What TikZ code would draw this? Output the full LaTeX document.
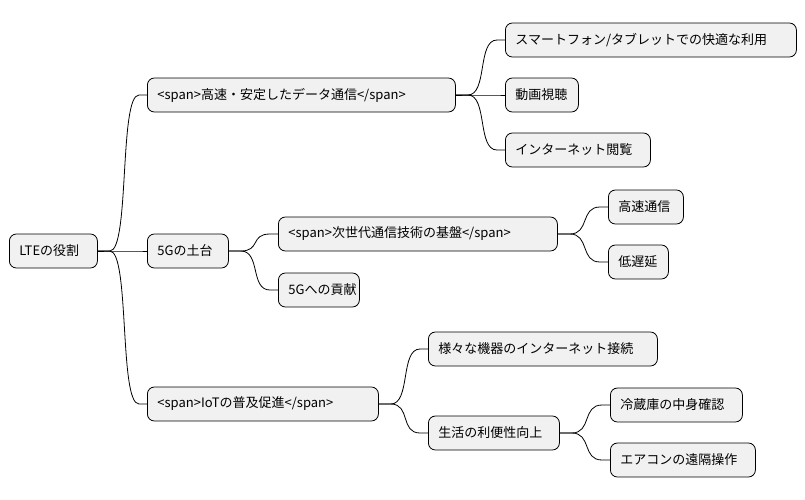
\documentclass[tikz,border=0pt]{standalone}
\usepackage{fontspec}
\setmainfont{Noto Sans CJK JP}
\begin{document}
\begin{tikzpicture}[x=1pt,y=-1pt,
  box/.style={draw=black,line width=0.8pt,fill={rgb,255:red,241;green,241;blue,241},rounded corners=7pt,
    anchor=west,inner xsep=10pt,minimum height=34pt,font=\fontsize{13}{15}\selectfont,text width=#1-20pt,align=left},
  e/.style={line width=0.8pt,to path={(\tikztostart) -- ++(12,0) .. controls +(20,0) and +(-20,0) .. ([xshift=-8pt]\tikztotarget.west) -- (\tikztotarget.west)}}]
\useasboundingbox (0,0) rectangle (805,499);
\node[box=88pt] (r) at (9,251) {LTEの役割};
\node[box=308pt] (a) at (147,95) {<span>高速・安定したデータ通信</span>};
\node[box=291pt] (a1) at (505,40) {スマートフォン/タブレットでの快適な利用};
\node[box=73pt] (a2) at (505,95) {動画視聴};
\node[box=145pt] (a3) at (505,150) {インターネット閲覧};
\node[box=81pt] (b) at (147,251) {5Gの土台};
\node[box=279pt] (b1) at (278,234) {<span>次世代通信技術の基盤</span>};
\node[box=75pt] (b11) at (608,207) {高速通信};
\node[box=60pt] (b12) at (608,262) {低遅延};
\node[box=81pt] (b2) at (278,290) {5Gへの貢献};
\node[box=231pt] (c) at (147,404) {<span>IoTの普及促進</span>};
\node[box=229pt] (c1) at (428,349) {様々な機器のインターネット接続};
\node[box=131pt] (c2) at (428,433) {生活の利便性向上};
\node[box=132pt] (c21) at (610,405) {冷蔵庫の中身確認};
\node[box=145pt] (c22) at (610,460) {エアコンの遠隔操作};
\foreach \p/\c in {r/a,r/b,r/c,a/a1,a/a2,a/a3,b/b1,b/b2,b1/b11,b1/b12,c/c1,c/c2,c2/c21,c2/c22}
  \draw[e] (\p.east) to (\c);
\end{tikzpicture}
\end{document}
